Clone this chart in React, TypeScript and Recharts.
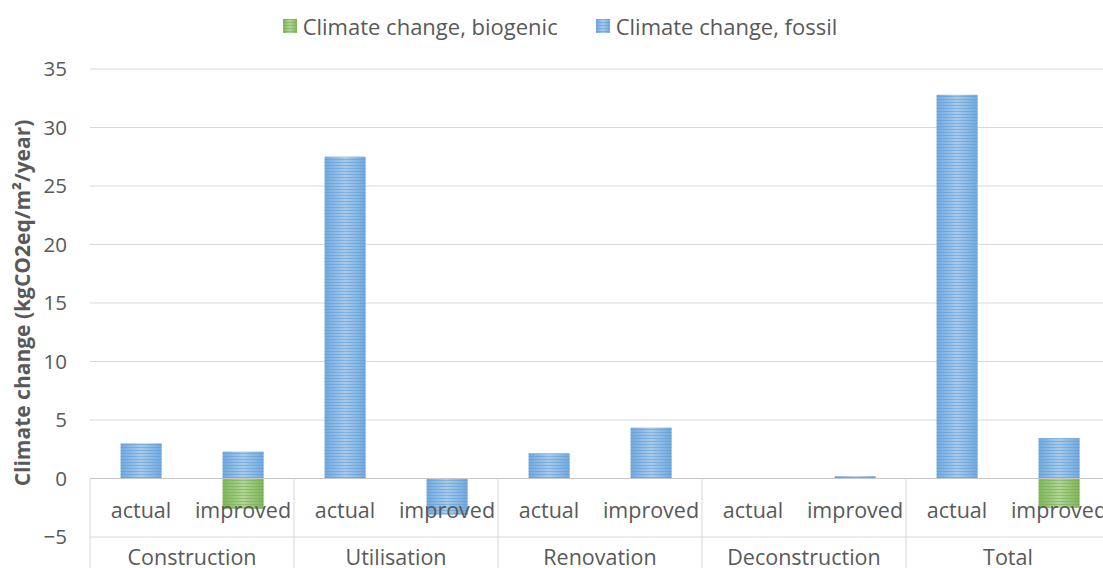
import { Bar, BarChart, CartesianGrid, Label, Legend, ReferenceLine, XAxis, YAxis } from 'recharts';

const groups = ['Construction', 'Utilisation', 'Renovation', 'Deconstruction', 'Total'];
const scenarios = ['actual', 'improved'];
const biogenic = [0, -2.6, 0, 0, 0, 0, 0, 0, 0, -2.5];
const fossil = [3.0, 2.3, 27.5, -3.1, 2.15, 4.35, 0, 0.2, 32.8, 3.45];
const yTicks = [-5, 0, 5, 10, 15, 20, 25, 30, 35];

const seriesNames = ['Climate change, biogenic', 'Climate change, fossil'];

const TEXT = '#595959';
const GRID = '#d9d9d9';
const FONT = '"Open Sans", sans-serif';

const data = groups.flatMap((group, g) =>
  scenarios.map((scenario, s) => {
    const i = g * 2 + s;
    return { id: `${group} ${scenario}`, group, scenario, biogenic: biogenic[i], fossil: fossil[i] };
  })
);

const StripedBar = (props: any) => {
  const { x, y, width, height, tone } = props;
  if (!height) return null;
  const top = Math.min(y, y + height);
  const h = Math.abs(height);
  return (
    <g>
      <rect x={x} y={top} width={width} height={h} fill={`url(#grad-${tone})`} />
      <rect x={x} y={top} width={width} height={h} fill={`url(#stripe-${tone})`} />
    </g>
  );
};

const ScenarioTick = ({ x, y, payload }: any) => {
  const row = data.find((d) => d.id === payload.value);
  return (
    <text x={x} y={y - 28} textAnchor="middle" dominantBaseline="central" fill={TEXT} fontSize={21.5} fontFamily={FONT}>
      {row ? row.scenario : ''}
    </text>
  );
};

const GroupTick = ({ x, y, payload }: any) => (
  <text x={x} y={y + 18} textAnchor="middle" dominantBaseline="central" fill={TEXT} fontSize={21.5} fontFamily={FONT}>
    {payload.value}
  </text>
);

const LegendBox = () => (
  <div style={{ height: 40, display: 'flex', justifyContent: 'center', alignItems: 'center', gap: 38, color: TEXT, fontSize: 22, fontFamily: FONT, paddingLeft: 17 }}>
    {seriesNames.map((name, i) => (
      <div key={name} style={{ display: 'flex', alignItems: 'center', gap: 6 }}>
        <svg width={14} height={14}>
          <rect width={14} height={14} fill={`url(#grad-${i === 0 ? 'green' : 'blue'})`} />
          <rect width={14} height={14} fill={`url(#stripe-${i === 0 ? 'green' : 'blue'})`} />
        </svg>
        <span>{name}</span>
      </div>
    ))}
  </div>
);

const YTitle = ({ viewBox }: any) => {
  const cx = viewBox.x + 22;
  const cy = viewBox.y + viewBox.height / 2;
  return (
    <text x={cx} y={cy} transform={`rotate(-90 ${cx} ${cy})`} textAnchor="middle" dominantBaseline="central" fill={TEXT} fontSize={21} fontWeight="bold" fontFamily={FONT}>
      Climate change (kgCO2eq/m²/year)
    </text>
  );
};

export default function App() {
  return (
    <div style={{ position: 'fixed', top: 0, left: 0, width: 1103, height: 568, overflow: 'hidden', background: '#fff' }}>
      <BarChart width={1110} height={568} data={data} stackOffset="sign" barCategoryGap="30%" margin={{ top: 29, right: 0, left: 0, bottom: 0 }}>
        <defs>
          <linearGradient id="grad-blue" x1="0" y1="0" x2="1" y2="0">
            <stop offset="0%" stopColor="#72a9de" />
            <stop offset="50%" stopColor="#a9cbeb" />
            <stop offset="100%" stopColor="#72a9de" />
          </linearGradient>
          <linearGradient id="grad-green" x1="0" y1="0" x2="1" y2="0">
            <stop offset="0%" stopColor="#7fb55b" />
            <stop offset="50%" stopColor="#b3d59a" />
            <stop offset="100%" stopColor="#7fb55b" />
          </linearGradient>
          <pattern id="stripe-blue" patternUnits="userSpaceOnUse" width={4} height={3}>
            <rect x={0} y={0} width={4} height={1} fill="#5b9bd5" fillOpacity={0.55} />
          </pattern>
          <pattern id="stripe-green" patternUnits="userSpaceOnUse" width={4} height={3}>
            <rect x={0} y={0} width={4} height={1} fill="#70ad47" fillOpacity={0.55} />
          </pattern>
        </defs>
        <CartesianGrid vertical={false} stroke={GRID} />
        <XAxis dataKey="id" height={1} axisLine={false} tickLine={false} tickSize={0} tickMargin={0} interval={0} tick={<ScenarioTick />} />
        <XAxis xAxisId="grp" dataKey="group" allowDuplicatedCategory={false} height={30} axisLine={false} tickLine={false} tickSize={0} tickMargin={0} interval={0} tick={<GroupTick />} />
        <YAxis width={90} domain={[-5, 35]} ticks={yTicks} axisLine={false} tickLine={false} tickSize={0} tickMargin={23}
          tick={{ fill: TEXT, fontSize: 20.5, fontFamily: FONT }}
          tickFormatter={(v: number) => (v < 0 ? `\u2212${-v}` : `${v}`)}>
          <Label content={<YTitle />} />
        </YAxis>
        <Legend verticalAlign="top" wrapperStyle={{ top: 6, left: 0, width: 1103 }} content={<LegendBox />} />
        <Bar dataKey="biogenic" name={seriesNames[0]} stackId="a" fill="#70ad47" isAnimationActive={false} shape={<StripedBar tone="green" />} />
        <Bar dataKey="fossil" name={seriesNames[1]} stackId="a" fill="#5b9bd5" isAnimationActive={false} shape={<StripedBar tone="blue" />} />
        <ReferenceLine y={0} stroke="#c6c6c6" />
        {groups.map((group) => (
          <ReferenceLine key={group} segment={[{ x: `${group} actual`, y: 0 }, { x: `${group} actual`, y: -8 }]} position="start" ifOverflow="visible" stroke={GRID} />
        ))}
      </BarChart>
    </div>
  );
}
